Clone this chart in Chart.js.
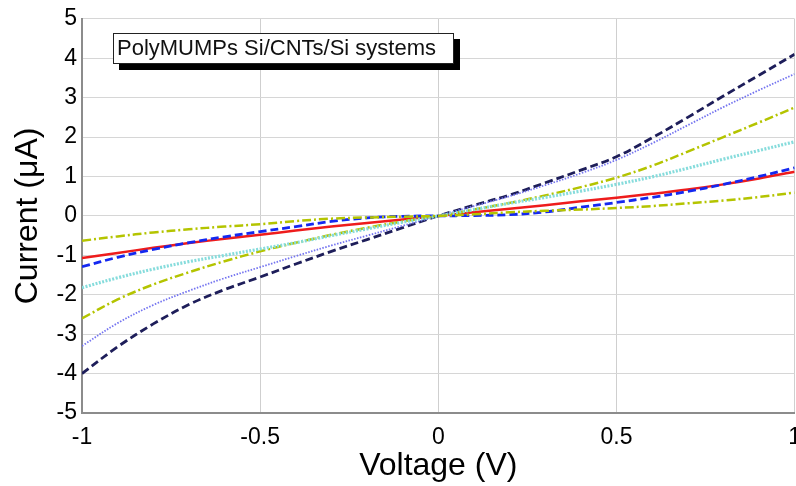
<!DOCTYPE html>
<html>
<head>
<meta charset="utf-8">
<script src="https://cdn.jsdelivr.net/npm/chart.js@4/dist/chart.umd.min.js"></script>
<style>
html,body{margin:0;padding:0;background:#fff;overflow:hidden;}
#wrap{width:812px;height:486px;}
</style>
</head>
<body>
<div id="wrap"><canvas id="c" width="812" height="486"></canvas></div>
<script>
// Voltage samples (V)
const voltage = [-1,-0.9,-0.8,-0.7,-0.6,-0.5,-0.4,-0.3,-0.2,-0.1,0,0.1,0.2,0.3,0.4,0.5,0.6,0.7,0.8,0.9,1];
// Current series (µA)
const navyDashed   = [-4.0,-3.32,-2.74,-2.25,-1.87,-1.55,-1.22,-0.9,-0.6,-0.3,0,0.27,0.53,0.84,1.16,1.5,1.98,2.5,3.04,3.57,4.1];
const purpleDotted = [-3.3,-2.72,-2.26,-1.9,-1.58,-1.3,-1.02,-0.75,-0.5,-0.25,0,0.25,0.5,0.78,1.08,1.42,1.84,2.3,2.76,3.19,3.6];
const yellowUpper  = [-2.6,-2.12,-1.74,-1.43,-1.15,-0.9,-0.68,-0.48,-0.3,-0.14,0,0.16,0.33,0.52,0.73,0.97,1.27,1.63,2.0,2.37,2.75];
const cyanDotted   = [-1.82,-1.57,-1.35,-1.16,-1.0,-0.84,-0.68,-0.5,-0.33,-0.16,0,0.16,0.32,0.47,0.63,0.8,0.99,1.21,1.44,1.66,1.88];
const blueDashed   = [-1.29,-1.05,-0.85,-0.68,-0.53,-0.40,-0.27,-0.14,-0.05,-0.01,0,0.01,0.03,0.1,0.22,0.34,0.47,0.62,0.8,1.0,1.22];
const redSolid     = [-1.07,-0.94,-0.81,-0.69,-0.58,-0.48,-0.37,-0.27,-0.18,-0.09,0,0.09,0.18,0.27,0.37,0.46,0.56,0.67,0.8,0.95,1.12];
const yellowLower  = [-0.63,-0.52,-0.42,-0.34,-0.27,-0.21,-0.13,-0.07,-0.04,-0.02,0,0.04,0.09,0.13,0.16,0.2,0.25,0.32,0.39,0.48,0.59];

const xTicks = [-1,-0.5,0,0.5,1];
const yTicks = [-5,-4,-3,-2,-1,0,1,2,3,4,5];
const boxText = 'PolyMUMPs Si/CNTs/Si systems';
const xTitle = 'Voltage (V)';
const yTitle = 'Current (\u03bcA)';

const FONT = '"Liberation Sans", Arial, Helvetica, sans-serif';

function pts(arr){ return voltage.map((v,i)=>({x:v,y:arr[i]})); }

const ds = (label, arr, color, width, dash) => ({
  label, data: pts(arr), borderColor: color, borderWidth: width,
  borderDash: dash, pointRadius: 0, tension: 0.35, fill: false
});

const boxPlugin = {
  id: 'boxPlugin',
  afterDraw(chart){
    const ctx = chart.ctx;
    ctx.save();
    ctx.fillStyle = '#000';
    ctx.fillRect(119, 39, 341, 31);
    ctx.fillStyle = '#fff';
    ctx.fillRect(113, 33, 340, 30);
    ctx.strokeStyle = '#222';
    ctx.lineWidth = 1;
    ctx.strokeRect(113.5, 33.5, 340, 30);
    ctx.fillStyle = '#111';
    ctx.font = '22px ' + FONT;
    ctx.textBaseline = 'middle';
    ctx.textAlign = 'left';
    ctx.fillText(boxText, 117, 48.5);
    ctx.restore();
  }
};

new Chart(document.getElementById('c'), {
  type: 'line',
  data: {
    datasets: [
      ds('s7', yellowLower, '#b4c400', 2.5, [9,3,2,3]),
      ds('s4', cyanDotted, '#86dcdc', 3.2, [2,1.5]),
      ds('s2', purpleDotted, '#7474f0', 1.8, [1.5,1.5]),
      ds('s3', yellowUpper, '#b4c400', 2.5, [9,3,2,3]),
      ds('s1', navyDashed, '#1e1e5a', 2.8, [8,4]),
      ds('s5', blueDashed, '#1428f0', 2.8, [8,4]),
      ds('s6', redSolid, '#ee1c1c', 2.5, [])
    ]
  },
  options: {
    responsive: false,
    animation: false,
    devicePixelRatio: 1,
    layout: { padding: { left: 0, top: 17, right: 17, bottom: 0 } },
    plugins: { legend: { display: false }, tooltip: { enabled: false } },
    scales: {
      x: {
        type: 'linear', min: -1, max: 1,
        afterBuildTicks(s){ s.ticks = xTicks.map(v=>({value:v})); },
        afterFit(s){ s.height = 73; },
        ticks: { color: '#000', padding: 11, font: { family: FONT, size: 23 }, maxRotation: 0,
                 callback: v => String(v) },
        grid: { color: '#cfcfcf', lineWidth: 1, drawTicks: false },
        border: { color: '#8c8c8c', width: 2 },
        title: { display: true, text: xTitle, color: '#000', font: { family: FONT, size: 32 }, padding: { top: 0, bottom: 1 } }
      },
      y: {
        type: 'linear', min: -5, max: 5,
        afterBuildTicks(s){ s.ticks = yTicks.map(v=>({value:v})); },
        afterFit(s){ s.width = 82; },
        ticks: { color: '#000', padding: 5, font: { family: FONT, size: 23 }, callback: v => String(v) },
        grid: { color: '#d6d6d6', lineWidth: 1, drawTicks: false },
        border: { color: '#8c8c8c', width: 2 },
        title: { display: true, text: yTitle, color: '#000', font: { family: FONT, size: 32 }, padding: { top: 9, bottom: 0 } }
      }
    }
  },
  plugins: [boxPlugin]
});
</script>
</body>
</html>
